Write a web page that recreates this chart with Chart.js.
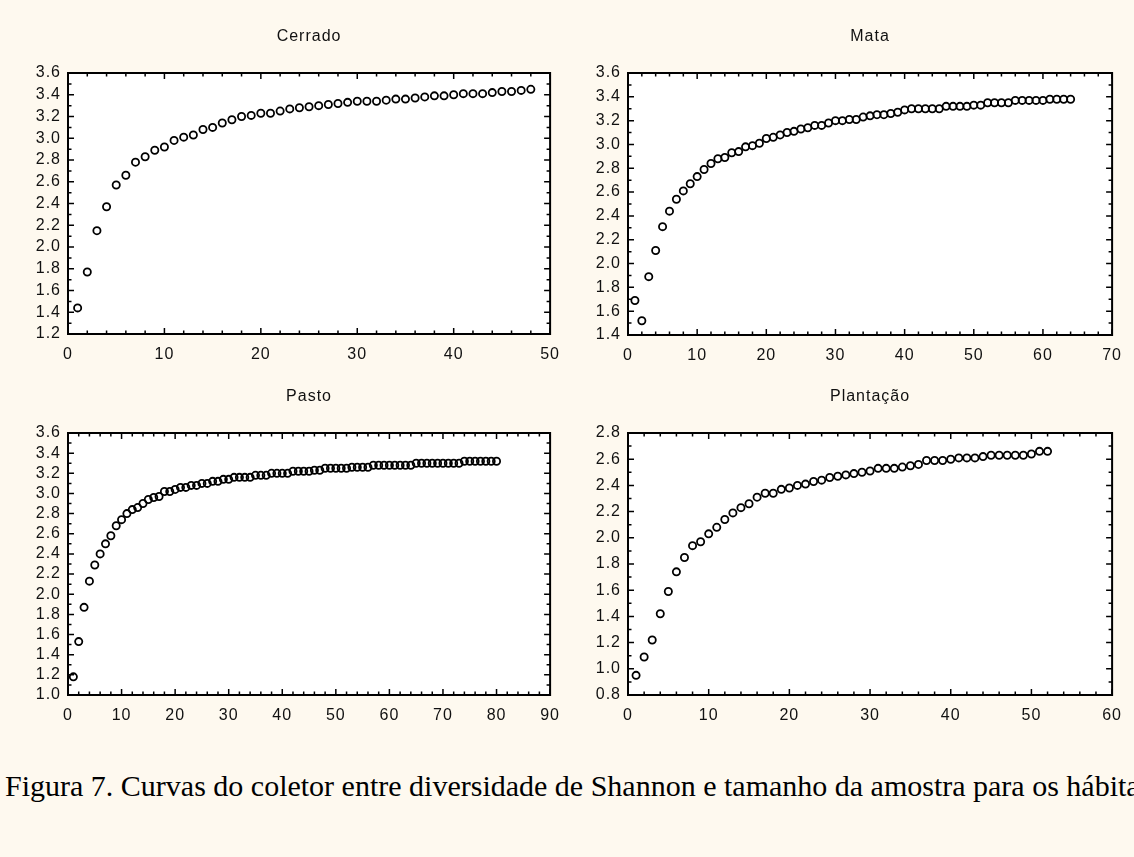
<!DOCTYPE html>
<html>
<head>
<meta charset="utf-8">
<script src="https://cdn.jsdelivr.net/npm/chart.js@4.4.1/dist/chart.umd.min.js"></script>
<style>
  html, body {
    margin: 0;
    padding: 0;
    width: 1134px;
    height: 857px;
    overflow: hidden;
    background: #fef9ef;
  }
  .panel {
    position: absolute;
  }
  #caption {
    position: absolute;
    left: 5px;
    top: 771px;
    font-family: "Liberation Serif", "Times New Roman", serif;
    font-size: 30px;
    line-height: 1;
    white-space: nowrap;
    color: #000;
  }
</style>
</head>
<body>
<canvas id="cerradoChart" class="panel"></canvas>
<canvas id="mataChart" class="panel"></canvas>
<canvas id="pastoChart" class="panel"></canvas>
<canvas id="plantacaoChart" class="panel"></canvas>
<div id="caption">Figura 7. Curvas do coletor entre diversidade de Shannon e tamanho da amostra para os hábitats</div>

<script>
// Shannon diversity (H') vs. number of samples, one series per habitat
const cerrado = [
  1.44, 1.77, 2.15, 2.37, 2.57, 2.66, 2.78, 2.83, 2.89, 2.92,
  2.98, 3.01, 3.03, 3.08, 3.10, 3.14, 3.17, 3.20, 3.21, 3.23,
  3.23, 3.25, 3.27, 3.28, 3.29, 3.30, 3.31, 3.32, 3.33, 3.34,
  3.34, 3.34, 3.35, 3.36, 3.36, 3.37, 3.38, 3.39, 3.39, 3.40,
  3.41, 3.41, 3.41, 3.42, 3.43, 3.43, 3.44, 3.45,
];

const mata = [
  1.69, 1.52, 1.89, 2.11, 2.31, 2.44, 2.54, 2.61, 2.67, 2.73,
  2.79, 2.84, 2.88, 2.89, 2.93, 2.94, 2.98, 2.99, 3.01, 3.05,
  3.06, 3.08, 3.10, 3.11, 3.13, 3.14, 3.16, 3.16, 3.18, 3.20,
  3.20, 3.21, 3.21, 3.23, 3.24, 3.25, 3.25, 3.26, 3.27, 3.29,
  3.30, 3.30, 3.30, 3.30, 3.30, 3.32, 3.32, 3.32, 3.32, 3.33,
  3.33, 3.35, 3.35, 3.35, 3.35, 3.37, 3.37, 3.37, 3.37, 3.37,
  3.38, 3.38, 3.38, 3.38,
];

const pasto = [
  1.18, 1.53, 1.87, 2.13, 2.29, 2.40, 2.50, 2.58, 2.68, 2.74,
  2.80, 2.84, 2.86, 2.90, 2.94, 2.96, 2.97, 3.02, 3.02, 3.04,
  3.06, 3.06, 3.08, 3.08, 3.10, 3.10, 3.12, 3.12, 3.14, 3.14,
  3.16, 3.16, 3.16, 3.16, 3.18, 3.18, 3.18, 3.20, 3.20, 3.20,
  3.20, 3.22, 3.22, 3.22, 3.22, 3.23, 3.23, 3.25, 3.25, 3.25,
  3.25, 3.25, 3.26, 3.26, 3.26, 3.26, 3.28, 3.28, 3.28, 3.28,
  3.28, 3.28, 3.28, 3.28, 3.30, 3.30, 3.30, 3.30, 3.30, 3.30,
  3.30, 3.30, 3.30, 3.32, 3.32, 3.32, 3.32, 3.32, 3.32, 3.32,
];

const plantacao = [
  0.95, 1.09, 1.22, 1.42, 1.59, 1.74, 1.85, 1.94, 1.97, 2.03,
  2.08, 2.14, 2.19, 2.23, 2.26, 2.31, 2.34, 2.34, 2.37, 2.38,
  2.40, 2.41, 2.43, 2.44, 2.46, 2.47, 2.48, 2.49, 2.50, 2.51,
  2.53, 2.53, 2.53, 2.54, 2.55, 2.56, 2.59, 2.59, 2.59, 2.60,
  2.61, 2.61, 2.61, 2.62, 2.63, 2.63, 2.63, 2.63, 2.63, 2.64,
  2.66, 2.66,
];

// axis ranges [xMax, yMin, yMax]
const cerradoAxes = [50, 1.2, 3.6];
const mataAxes = [70, 1.4, 3.6];
const pastoAxes = [90, 1.0, 3.6];
const plantacaoAxes = [60, 0.8, 2.8];

const FONT = "'Liberation Sans', Arial, sans-serif";

// plot box placement on the page: left, top, width, height
const panels = [
  { id: "cerradoChart", title: "Cerrado", values: cerrado, axes: cerradoAxes, box: [68, 73, 484, 261] },
  { id: "mataChart", title: "Mata", values: mata, axes: mataAxes, box: [628, 73, 486, 262] },
  { id: "pastoChart", title: "Pasto", values: pasto, axes: pastoAxes, box: [68, 433, 484, 262] },
  { id: "plantacaoChart", title: "Plantação", values: plantacao, axes: plantacaoAxes, box: [628, 433, 486, 262] },
];

// slightly wider lettering, like the old plotting software
const wideText = {
  id: "wideText",
  beforeDraw(chart) {
    chart.ctx.letterSpacing = "1px";
  },
};

// white plot area, heavy frame and inward ticks on all four sides
const frameTicks = {
  id: "frameTicks",
  beforeDraw(chart) {
    const { ctx, chartArea: a } = chart;
    ctx.save();
    ctx.fillStyle = "#fff";
    ctx.fillRect(a.left, a.top, a.right - a.left, a.bottom - a.top);
    ctx.restore();
  },
  afterDraw(chart) {
    const { ctx, chartArea: a } = chart;
    const xs = chart.scales.x;
    const ys = chart.scales.y;
    ctx.save();
    ctx.strokeStyle = "#000";
    ctx.lineWidth = 1.5;
    ctx.beginPath();
    for (let v = 0; v <= xs.max; v += 2) {
      const px = xs.getPixelForValue(v);
      const len = v % 10 === 0 ? 6 : 3.5;
      ctx.moveTo(px, a.bottom);
      ctx.lineTo(px, a.bottom - len);
      ctx.moveTo(px, a.top);
      ctx.lineTo(px, a.top + len);
    }
    const steps = Math.round((ys.max - ys.min) / 0.1);
    for (let i = 0; i <= steps; i++) {
      const py = ys.getPixelForValue(ys.min + i * 0.1);
      const len = i % 2 === 0 ? 6 : 3.5;
      ctx.moveTo(a.left, py);
      ctx.lineTo(a.left + len, py);
      ctx.moveTo(a.right, py);
      ctx.lineTo(a.right - len, py);
    }
    ctx.stroke();
    ctx.lineWidth = 2;
    ctx.strokeRect(a.left, a.top, a.right - a.left, a.bottom - a.top);
    ctx.restore();
  },
};

function drawPanel(p) {
  const [left, top, w, h] = p.box;
  const [xMax, yMin, yMax] = p.axes;
  const canvas = document.getElementById(p.id);
  // room around the plot box: 68 left (labels), 60 top (title), 18 right, 36 bottom
  canvas.width = w + 68 + 18;
  canvas.height = h + 60 + 36;
  canvas.style.left = left - 68 + "px";
  canvas.style.top = top - 60 + "px";

  new Chart(canvas, {
    type: "scatter",
    data: {
      datasets: [
        {
          data: p.values.map((v, i) => ({ x: i + 1, y: v })),
          pointStyle: "circle",
          pointRadius: 3.6,
          pointBorderWidth: 1.8,
          borderColor: "#000",
          backgroundColor: "rgba(0,0,0,0)",
        },
      ],
    },
    options: {
      responsive: false,
      animation: false,
      devicePixelRatio: 1,
      layout: { padding: { left: 8, right: 18, top: 0, bottom: 6 } },
      plugins: {
        legend: { display: false },
        tooltip: { enabled: false },
        title: {
          display: true,
          text: p.title,
          fullSize: false,
          color: "#111",
          font: { family: FONT, size: 16, weight: "normal", lineHeight: 1.2 },
          padding: { top: 13.5, bottom: 27.3 },
        },
      },
      scales: {
        x: {
          type: "linear",
          min: 0,
          max: xMax,
          afterFit: (scale) => { scale.height = 30; },
          grid: { display: false, drawTicks: false },
          border: { display: false },
          ticks: {
            stepSize: 10,
            padding: 11,
            maxRotation: 0,
            autoSkip: false,
            color: "#111",
            font: { family: FONT, size: 16 },
          },
        },
        y: {
          min: yMin,
          max: yMax,
          afterFit: (scale) => { scale.width = 60; },
          grid: { display: false, drawTicks: false },
          border: { display: false },
          ticks: {
            stepSize: 0.2,
            padding: 7,
            autoSkip: false,
            color: "#111",
            font: { family: FONT, size: 16 },
            callback: (v) => v.toFixed(1),
          },
        },
      },
    },
    plugins: [wideText, frameTicks],
  });
}

panels.forEach(drawPanel);
</script>
</body>
</html>
